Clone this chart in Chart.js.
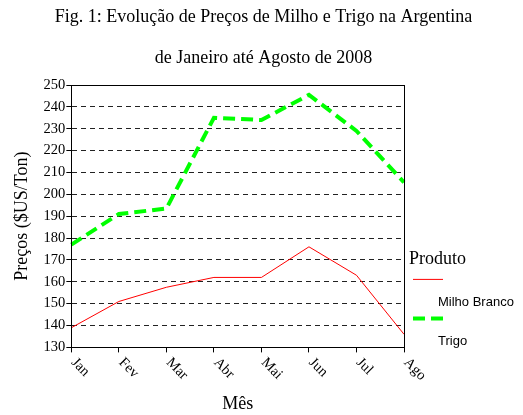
<!DOCTYPE html>
<html>
<head>
<meta charset="utf-8">
<script src="https://cdn.jsdelivr.net/npm/chart.js@4"></script>
<style>
  body { margin: 0; background: #fff; }
  #wrap { width: 523px; height: 415px; }
</style>
</head>
<body>
<div id="wrap"><canvas id="precos"></canvas></div>
<script>
// dados
const meses = ['Jan', 'Fev', 'Mar', 'Abr', 'Mai', 'Jun', 'Jul', 'Ago'];
const milhoBranco = [139, 151, 157.5, 162, 162, 176, 163, 136];
const trigo = [177, 191, 193.5, 235, 234, 245.5, 229, 205.5];
const yMin = 130, yMax = 250, yStep = 10;

const serif = 'Liberation Serif';

// moldura do grafico + rotulos do eixo x inclinados
const frameAndLabels = {
  id: 'frameAndLabels',
  afterDraw(chart) {
    const { ctx, chartArea: a } = chart;
    const xs = chart.scales.x;
    ctx.save();
    ctx.strokeStyle = '#000';
    ctx.lineWidth = 1;
    ctx.strokeRect(Math.round(a.left) + 0.5, Math.round(a.top) + 0.5,
      Math.round(a.right - a.left), Math.round(a.bottom - a.top));
    ctx.fillStyle = '#000';
    ctx.font = '14.5px "' + serif + '"';
    ctx.textAlign = 'left';
    ctx.textBaseline = 'middle';
    chart.data.labels.forEach((lab, i) => {
      ctx.save();
      ctx.translate(xs.getPixelForTick(i) + 2, a.bottom + 13);
      ctx.rotate(Math.PI / 4);
      ctx.fillText(lab, 0, 0);
      ctx.restore();
    });
    ctx.restore();
  }
};

// legenda a direita: titulo, amostra da linha e texto abaixo
const legendaProduto = {
  id: 'legendaProduto',
  afterDraw(chart) {
    const { ctx, chartArea: a } = chart;
    const x0 = a.right;
    ctx.save();
    ctx.fillStyle = '#000';
    ctx.textAlign = 'left';
    ctx.textBaseline = 'middle';
    ctx.font = '18px "' + serif + '"';
    ctx.fillText('Produto', x0 + 5, a.bottom - 88);
    chart.data.datasets.forEach((ds, i) => {
      const yl = a.bottom - 68 + i * 39;
      ctx.strokeStyle = ds.borderColor;
      ctx.lineWidth = ds.borderWidth;
      ctx.setLineDash(ds.borderDash || []);
      ctx.beginPath();
      ctx.moveTo(x0 + 9, yl);
      ctx.lineTo(x0 + 39, yl);
      ctx.stroke();
      ctx.setLineDash([]);
      ctx.font = '13px "Liberation Sans"';
      ctx.fillText(ds.label, x0 + 34, yl + 23);
    });
    ctx.restore();
  }
};

new Chart(document.getElementById('precos'), {
  type: 'line',
  data: {
    labels: meses,
    datasets: [
      {
        label: 'Milho Branco',
        data: milhoBranco,
        borderColor: '#ff0000',
        borderWidth: 1,
        pointRadius: 0,
        tension: 0
      },
      {
        label: 'Trigo',
        data: trigo,
        borderColor: '#00ff00',
        borderWidth: 4,
        borderDash: [12, 6],
        pointRadius: 0,
        tension: 0
      }
    ]
  },
  options: {
    responsive: true,
    maintainAspectRatio: false,
    animation: false,
    layout: { padding: { left: 4, right: 0, top: 0, bottom: 0 } },
    plugins: {
      legend: { display: false },
      tooltip: { enabled: false },
      title: {
        display: true,
        text: 'Fig. 1: Evolução de Preços de Milho e Trigo na Argentina',
        color: '#000',
        font: { family: serif, size: 18, weight: 'normal', lineHeight: 1.2 },
        padding: { top: 6, bottom: 19.6 }
      },
      subtitle: {
        display: true,
        text: 'de Janeiro até Agosto de 2008',
        color: '#000',
        font: { family: serif, size: 18, weight: 'normal', lineHeight: 1.2 },
        padding: { top: 0, bottom: 16.2 }
      }
    },
    scales: {
      x: {
        grid: { drawOnChartArea: false, drawTicks: true, tickLength: 5, color: '#000' },
        border: { color: '#000' },
        ticks: { display: false },
        title: {
          display: true,
          text: 'Mês',
          color: '#000',
          font: { family: serif, size: 18, lineHeight: 1.2 },
          padding: { top: 41, bottom: 0 }
        }
      },
      y: {
        min: yMin,
        max: yMax,
        grid: { color: '#222', tickLength: 5, tickColor: '#000' },
        border: { color: '#000', dash: [5, 4] },
        ticks: {
          stepSize: yStep,
          padding: 1,
          color: '#000',
          font: { family: serif, size: 14.5 }
        },
        title: {
          display: true,
          text: 'Preços ($US/Ton)',
          color: '#000',
          font: { family: serif, size: 18, lineHeight: 1.2 },
          padding: { top: 7, bottom: 10 }
        }
      },
      // eixo vazio a direita so para reservar espaco para a legenda
      espacoLegenda: {
        position: 'right',
        grid: { display: false, drawTicks: false },
        border: { display: false },
        ticks: { display: false },
        afterFit(scale) { scale.width = 119; }
      }
    }
  },
  plugins: [frameAndLabels, legendaProduto]
});
</script>
</body>
</html>
